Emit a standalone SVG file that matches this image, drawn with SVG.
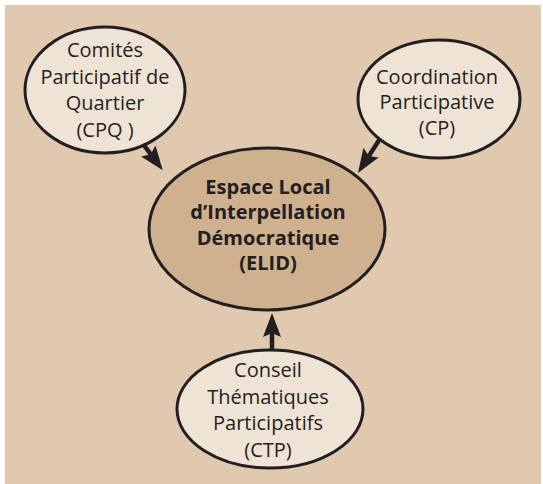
<svg xmlns="http://www.w3.org/2000/svg" width="543" height="484" viewBox="0 0 543 484">
<style>
.bg{fill:#e0c9af}
.node{fill:#efe3d5;stroke:#231f20;stroke-width:3}
.main{fill:#cfb08f;stroke:#231f20;stroke-width:3}
.t{font-family:"Open Sans","Liberation Sans",sans-serif;font-size:20px;fill:#231f20;text-anchor:middle}
.tb{font-family:"Open Sans","Liberation Sans",sans-serif;font-size:20px;font-weight:bold;fill:#231f20;text-anchor:middle}
.conn{stroke:#231f20;stroke-width:4.5;fill:none}
</style>
<defs>
<marker id="ah" markerUnits="userSpaceOnUse" viewBox="-6 -10 28 20" markerWidth="28" markerHeight="20" refX="0" refY="0" orient="auto" overflow="visible">
<path d="M20,0 L-4,-9 L0,0 L-4,9 Z" fill="#231f20"/>
</marker>
</defs>
<rect width="543" height="484" fill="#ffffff"/>
<rect class="bg" x="5" y="5" width="536" height="479"/>
<g id="cpq">
<ellipse class="node" cx="105" cy="90" rx="80" ry="63"/>
<text class="t" x="105" y="57">Comités</text>
<text class="t" x="105" y="84">Participatif de</text>
<text class="t" x="105" y="110">Quartier</text>
<text class="t" x="105" y="137">(CPQ )</text>
</g>
<g id="cp">
<ellipse class="node" cx="439" cy="99" rx="81" ry="59"/>
<text class="t" x="437" y="84">Coordination</text>
<text class="t" x="437" y="109">Participative</text>
<text class="t" x="437" y="135">(CP)</text>
</g>
<g id="elid">
<ellipse class="main" cx="267" cy="229" rx="118" ry="81"/>
<text class="tb" x="268" y="194">Espace Local</text>
<text class="tb" x="268" y="219">d’Interpellation</text>
<text class="tb" x="268" y="245">Démocratique</text>
<text class="tb" x="268" y="270">(ELID)</text>
</g>
<g id="ctp">
<ellipse class="node" cx="270" cy="409" rx="93" ry="59"/>
<text class="t" x="268" y="377">Conseil</text>
<text class="t" x="268" y="404">Thématiques</text>
<text class="t" x="268" y="430">Participatifs</text>
<text class="t" x="268" y="457">(CTP)</text>
</g>
<g id="connectors">
<line class="conn" x1="143" y1="144" x2="150.7" y2="154.2" marker-end="url(#ah)"/>
<line class="conn" x1="379.6" y1="139.3" x2="368.8" y2="156.1" marker-end="url(#ah)"/>
<line class="conn" x1="272" y1="351" x2="272" y2="333" marker-end="url(#ah)"/>
</g>
</svg>
